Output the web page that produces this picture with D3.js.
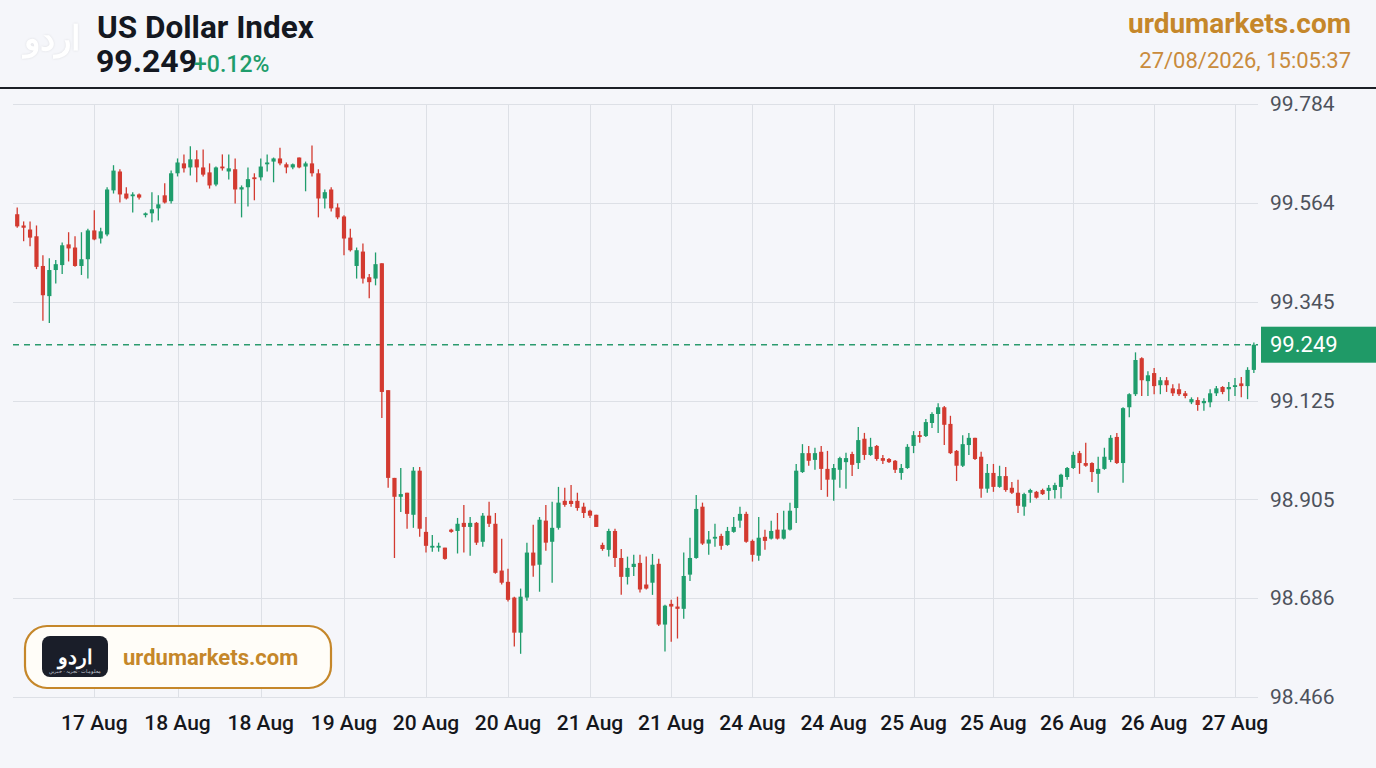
<!DOCTYPE html>
<meta charset="utf-8">
<style>
body { margin: 0; background: #f5f6fa; }
svg { display: block; font-family: Roboto, "Noto Sans", sans-serif; }
.grid line { stroke: #dde0e6; stroke-width: 1; }
.ylab { font-size: 21px; fill: #4d525c; }
.xlab { font-size: 21px; fill: #15171c; font-weight: 500; }
</style>
<svg width="1376" height="768"></svg>
<script src="https://cdn.jsdelivr.net/npm/d3@7"></script>
<script>

var opens = [99.539,99.514,99.505,99.490,99.424,99.357,99.415,99.426,99.472,99.465,
99.424,99.439,99.503,99.485,99.494,99.592,99.634,99.585,99.579,99.583,
99.537,99.541,99.552,99.581,99.568,99.630,99.652,99.643,99.661,99.643,
99.632,99.605,99.645,99.634,99.639,99.594,99.599,99.621,99.621,99.650,
99.656,99.663,99.650,99.643,99.665,99.645,99.652,99.630,99.574,99.594,
99.554,99.534,99.487,99.424,99.456,99.399,99.396,99.430,99.148,98.953,
98.911,98.920,98.871,98.969,98.833,98.798,98.798,98.798,98.838,98.835,
98.853,98.844,98.853,98.811,98.869,98.851,98.747,98.722,98.687,98.609,
98.687,98.787,98.760,98.858,98.811,98.842,98.902,98.902,98.902,98.889,
98.880,98.871,98.804,98.793,98.835,98.775,98.733,98.755,98.764,98.716,
98.720,98.762,98.627,98.673,98.667,98.662,98.738,98.775,98.889,98.807,
98.818,98.824,98.804,98.833,98.858,98.873,98.813,98.780,98.822,98.818,
98.838,98.818,98.838,98.886,98.966,99.008,98.993,99.011,98.973,98.949,
98.971,98.988,99.006,98.986,99.040,99.004,99.024,98.997,98.995,98.991,
98.964,98.975,99.024,99.048,99.046,99.075,99.095,99.110,99.073,99.013,
98.980,99.026,99.042,99.000,98.929,98.964,98.933,98.957,98.931,98.920,
98.889,98.920,98.922,98.926,98.924,98.926,98.933,98.955,98.975,99.008,
98.986,98.986,98.962,98.973,98.993,99.044,98.986,99.110,99.139,99.219,
99.168,99.186,99.159,99.170,99.152,99.150,99.141,99.121,99.126,99.119,
99.121,99.141,99.155,99.150,99.155,99.163,99.157,99.193];

var highs = [99.554,99.523,99.523,99.514,99.448,99.441,99.437,99.476,99.499,99.490,
99.499,99.507,99.548,99.509,99.599,99.648,99.639,99.599,99.588,99.585,
99.543,99.588,99.581,99.608,99.636,99.663,99.672,99.690,99.681,99.683,
99.652,99.645,99.672,99.672,99.663,99.603,99.643,99.630,99.663,99.672,
99.665,99.687,99.654,99.652,99.665,99.656,99.692,99.639,99.594,99.599,
99.563,99.537,99.507,99.465,99.474,99.406,99.454,99.430,99.148,98.953,
98.975,98.920,98.977,98.977,98.866,98.826,98.809,98.798,98.840,98.864,
98.893,98.866,98.855,98.875,98.900,98.875,98.818,98.751,98.689,98.707,
98.809,98.849,98.866,98.893,98.900,98.933,98.931,98.937,98.920,98.898,
98.882,98.871,98.809,98.840,98.840,98.795,98.778,98.782,98.782,98.778,
98.784,98.773,98.671,98.682,98.689,98.787,98.820,98.915,98.898,98.835,
98.851,98.829,98.844,98.866,98.889,98.878,98.816,98.866,98.838,98.858,
98.875,98.880,98.898,98.984,99.028,99.024,99.020,99.024,99.013,98.984,
99.000,99.009,99.011,99.066,99.053,99.042,99.026,99.004,98.997,98.993,
98.984,99.028,99.057,99.057,99.084,99.099,99.119,99.113,99.091,99.015,
99.048,99.053,99.042,99.011,98.984,98.984,98.980,98.977,98.944,98.949,
98.920,98.929,98.924,98.929,98.937,98.942,98.962,98.977,99.011,99.013,
99.031,98.988,99.000,99.020,99.048,99.053,99.110,99.141,99.232,99.221,
99.190,99.197,99.177,99.177,99.161,99.163,99.146,99.132,99.132,99.130,
99.150,99.157,99.157,99.166,99.175,99.177,99.199,99.254];

var lows = [99.509,99.479,99.468,99.417,99.302,99.297,99.385,99.406,99.434,99.422,
99.404,99.396,99.481,99.474,99.490,99.585,99.565,99.572,99.543,99.572,
99.532,99.521,99.525,99.563,99.563,99.623,99.632,99.625,99.610,99.623,
99.596,99.601,99.636,99.616,99.563,99.532,99.556,99.570,99.614,99.634,
99.610,99.648,99.630,99.639,99.641,99.590,99.623,99.532,99.552,99.545,
99.528,99.448,99.456,99.396,99.385,99.352,99.381,99.086,98.931,98.775,
98.877,98.840,98.842,98.822,98.787,98.789,98.789,98.771,98.831,98.785,
98.787,98.780,98.804,98.800,98.844,98.740,98.716,98.678,98.578,98.562,
98.680,98.733,98.700,98.791,98.720,98.838,98.889,98.889,98.880,98.864,
98.864,98.844,98.791,98.778,98.755,98.693,98.716,98.735,98.698,98.705,
98.693,98.624,98.567,98.589,98.596,98.640,98.724,98.773,98.804,98.782,
98.800,98.793,98.802,98.831,98.842,98.809,98.767,98.769,98.793,98.816,
98.816,98.816,98.836,98.853,98.964,98.980,98.971,98.926,98.911,98.902,
98.931,98.929,98.957,98.973,98.993,99.002,98.991,98.984,98.986,98.964,
98.949,98.973,99.008,99.031,99.044,99.064,99.053,99.026,99.006,98.946,
98.977,99.004,98.993,98.909,98.920,98.922,98.931,98.922,98.917,98.875,
98.869,98.898,98.907,98.915,98.904,98.907,98.907,98.949,98.973,98.962,
98.978,98.944,98.920,98.971,98.988,98.984,98.942,99.088,99.135,99.135,
99.135,99.139,99.139,99.144,99.135,99.135,99.130,99.117,99.102,99.102,
99.110,99.135,99.139,99.124,99.135,99.132,99.128,99.186];

var closes = [99.512,99.509,99.487,99.422,99.359,99.415,99.428,99.470,99.463,99.424,
99.439,99.503,99.483,99.501,99.594,99.636,99.583,99.574,99.583,99.576,
99.541,99.550,99.561,99.565,99.630,99.654,99.641,99.661,99.643,99.627,
99.603,99.643,99.641,99.641,99.594,99.599,99.617,99.617,99.645,99.654,
99.663,99.652,99.643,99.650,99.643,99.652,99.630,99.574,99.588,99.552,
99.532,99.485,99.459,99.459,99.396,99.388,99.428,99.144,98.953,98.911,
98.917,98.873,98.969,98.840,98.802,98.802,98.802,98.773,98.833,98.851,
98.844,98.853,98.809,98.869,98.851,98.742,98.720,98.682,98.609,98.689,
98.787,98.758,98.860,98.809,98.842,98.898,98.893,98.895,98.886,98.875,
98.869,98.844,98.795,98.835,98.775,98.733,98.753,98.762,98.705,98.707,
98.760,98.627,98.669,98.667,98.662,98.735,98.775,98.884,98.807,98.816,
98.822,98.802,98.835,98.844,98.873,98.811,98.782,98.820,98.813,98.835,
98.818,98.838,98.880,98.969,99.008,98.991,99.008,98.973,98.949,98.975,
98.997,98.997,98.982,99.037,99.004,99.022,98.995,98.991,98.988,98.971,
98.975,99.022,99.048,99.044,99.077,99.095,99.110,99.071,99.008,98.980,
99.028,99.042,98.995,98.929,98.964,98.933,98.957,98.926,98.920,98.891,
98.917,98.926,98.909,98.917,98.931,98.937,98.960,98.975,99.004,98.986,
98.980,98.966,98.973,99.000,99.042,98.986,99.108,99.139,99.215,99.170,
99.181,99.157,99.170,99.159,99.141,99.139,99.135,99.128,99.115,99.124,
99.141,99.152,99.144,99.155,99.159,99.157,99.193,99.249];

var yTicks = [99.784, 99.564, 99.345, 99.125, 98.905, 98.686, 98.466];
// a date label every 13 candles (candle index of each gridline)
var xTickIdx = [12, 25, 38, 51, 64, 77, 90, 103, 116, 129, 142, 155, 168, 181, 194];
var xTickLabels = ["17 Aug","18 Aug","18 Aug","19 Aug","20 Aug","20 Aug","21 Aug","21 Aug",
                   "24 Aug","24 Aug","25 Aug","25 Aug","26 Aug","26 Aug","27 Aug"];
var lastPrice = 99.249, changePct = "+0.12%";

(function() {
var up = "#1f9d6c", down = "#d33a30", gold = "#c5872a";

var svg = d3.select("svg");
var pLeft = 13, pRight = 1258, pTop = 104, pBottom = 697;

var candles = closes.map(function(c, i) {
  return { i: i, o: opens[i], h: highs[i], l: lows[i], c: c };
});

// the original plot is slightly wider per candle on the left, so x is piecewise
var x = d3.scaleLinear()
  .domain([-0.5, 12, 51, 90, 129, 168, 194, 197.5])
  .range([14, 94.3, 344, 590, 833.7, 1073.3, 1235, 1257]);
var y = d3.scaleLinear().domain([98.466, 99.784]).range([pBottom, pTop]);
var bodyW = 4.2;

// header
svg.append("rect").attr("width", 1376).attr("height", 768).attr("fill", "#f5f6fa");
svg.append("text").attr("x", 52).attr("y", 50).attr("text-anchor", "middle")
  .attr("font-size", 34).attr("font-weight", 700).attr("fill", "#ffffff")
  .style("filter", "drop-shadow(0 0 1px rgba(0,0,0,0.10))")
  .text("اردو");
svg.append("text").attr("x", 97).attr("y", 38)
  .attr("font-size", 31.5).attr("font-weight", 700).attr("fill", "#141821")
  .text("US Dollar Index");
var priceT = svg.append("text").attr("x", 96).attr("y", 72)
  .attr("font-size", 32).attr("font-weight", 700).attr("fill", "#141821")
  .text(lastPrice.toFixed(3));
var pw = priceT.node().getComputedTextLength();
svg.append("text").attr("x", 96 + pw - 3).attr("y", 72)
  .attr("font-size", 23).attr("font-weight", 500).attr("fill", up)
  .text(changePct);
svg.append("text").attr("x", 1351).attr("y", 33).attr("text-anchor", "end")
  .attr("font-size", 28).attr("font-weight", 700).attr("fill", gold)
  .text("urdumarkets.com");
svg.append("text").attr("x", 1351).attr("y", 68).attr("text-anchor", "end")
  .attr("font-size", 22).attr("fill", "#c98b3c")
  .text("27/08/2026, 15:05:37");
svg.append("line").attr("x1", 0).attr("x2", 1376).attr("y1", 88).attr("y2", 88)
  .attr("stroke", "#1c1f26").attr("stroke-width", 2);

// grid
var grid = svg.append("g").attr("class", "grid");
grid.selectAll(".h").data(yTicks).enter().append("line")
  .attr("x1", pLeft).attr("x2", pRight)
  .attr("y1", function(d) { return Math.round(y(d)) + 0.5; })
  .attr("y2", function(d) { return Math.round(y(d)) + 0.5; });
grid.selectAll(".v").data(xTickIdx).enter().append("line")
  .attr("x1", function(d) { return Math.round(x(d)) + 0.5; })
  .attr("x2", function(d) { return Math.round(x(d)) + 0.5; })
  .attr("y1", pTop).attr("y2", pBottom);

// axis labels
svg.selectAll(".ylab").data(yTicks).enter().append("text")
  .attr("class", "ylab")
  .attr("x", 1270).attr("y", function(d) { return y(d); })
  .attr("dy", "0.35em")
  .text(function(d) { return d.toFixed(3); });
svg.selectAll(".xlab").data(xTickIdx).enter().append("text")
  .attr("class", "xlab")
  .attr("x", function(d) { return x(d); }).attr("y", 723)
  .attr("dy", "0.35em").attr("text-anchor", "middle")
  .text(function(d, i) { return xTickLabels[i]; });

// last price line
svg.append("line").attr("x1", pLeft).attr("x2", pRight)
  .attr("y1", y(lastPrice)).attr("y2", y(lastPrice))
  .attr("stroke", "#2b9b6e").attr("stroke-width", 1.4).attr("stroke-dasharray", "6,5");

// candles
var cg = svg.append("g").selectAll("g").data(candles).enter().append("g")
  .attr("fill", function(d) { return d.c >= d.o ? up : down; })
  .attr("stroke", function(d) { return d.c >= d.o ? up : down; });
cg.append("line")
  .attr("x1", function(d) { return x(d.i); }).attr("x2", function(d) { return x(d.i); })
  .attr("y1", function(d) { return y(d.h); }).attr("y2", function(d) { return y(d.l); })
  .attr("stroke-width", 1.3);
cg.append("rect")
  .attr("stroke", "none")
  .attr("x", function(d) { return x(d.i) - bodyW / 2; })
  .attr("width", bodyW)
  .attr("y", function(d) { return y(Math.max(d.o, d.c)); })
  .attr("height", function(d) { return Math.max(1.5, Math.abs(y(d.o) - y(d.c))); });

// price tag
svg.append("rect").attr("x", 1261).attr("y", y(lastPrice) - 18).attr("width", 115).attr("height", 36)
  .attr("fill", "#1f9a67");
svg.append("text").attr("x", 1270).attr("y", y(lastPrice)).attr("dy", "0.35em")
  .attr("font-size", 22).attr("fill", "#ffffff").text(lastPrice.toFixed(3));

// badge
var badge = svg.append("g");
badge.append("rect").attr("x", 25).attr("y", 626).attr("width", 306).attr("height", 62).attr("rx", 22)
  .attr("fill", "#fffdf8").attr("stroke", gold).attr("stroke-width", 2.2);
badge.append("rect").attr("x", 42).attr("y", 636).attr("width", 66).attr("height", 41).attr("rx", 8)
  .attr("fill", "#1a1e29");
badge.append("text").attr("x", 75).attr("y", 664).attr("text-anchor", "middle")
  .attr("font-size", 20).attr("font-weight", 700).attr("fill", "#ffffff").text("اردو");
badge.append("text").attr("x", 75).attr("y", 673).attr("text-anchor", "middle")
  .attr("font-size", 5).attr("fill", "#cfd3da").text("معلومات · تجزیہ · خبریں");
badge.append("text").attr("x", 123).attr("y", 665)
  .attr("font-size", 22).attr("font-weight", 700).attr("fill", gold).text("urdumarkets.com");
})();

</script>
